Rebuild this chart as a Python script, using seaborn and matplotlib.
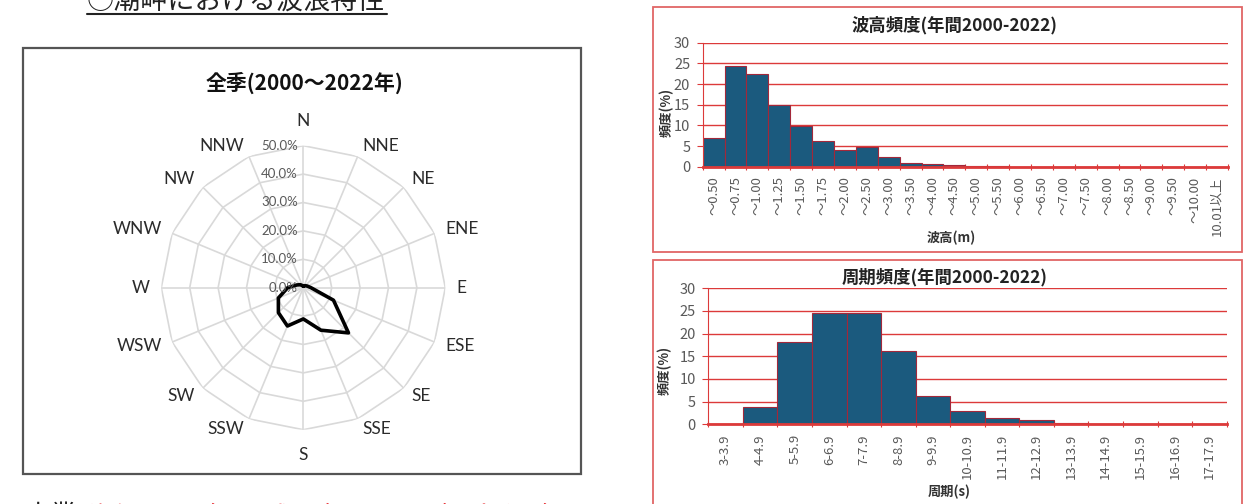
import numpy as np
import pandas as pd
import matplotlib
matplotlib.use("Agg")
import matplotlib.pyplot as plt
import seaborn as sns
from matplotlib.patches import Rectangle
from matplotlib.lines import Line2D

# ---------------- data ----------------
directions = ["N", "NNE", "NE", "ENE", "E", "ESE", "SE", "SSE",
              "S", "SSW", "SW", "WSW", "W", "WNW", "NW", "NNW"]
wave_dir_freq = [0.5, 0.7, 1.0, 1.5, 2.7, 11.5, 22.5, 16.2,
                 11.0, 14.6, 12.4, 9.5, 5.5, 2.5, 1.5, 0.8]
radial_ticks = [0, 10, 20, 30, 40, 50]

height_labels = ["～0.50", "～0.75", "～1.00", "～1.25", "～1.50", "～1.75",
                 "～2.00", "～2.50", "～3.00", "～3.50", "～4.00", "～4.50",
                 "～5.00", "～5.50", "～6.00", "～6.50", "～7.00", "～7.50",
                 "～8.00", "～8.50", "～9.00", "～9.50", "～10.00", "10.01以上"]
height_freq = [7.0, 24.4, 22.4, 14.9, 9.9, 6.2, 4.1, 4.8, 2.3, 1.0, 0.6, 0.35,
               0.1, 0.05, 0.02, 0.01, 0.0, 0.0, 0.0, 0.0, 0.0, 0.0, 0.0, 0.0]

period_labels = ["3-3.9", "4-4.9", "5-5.9", "6-6.9", "7-7.9", "8-8.9", "9-9.9",
                 "10-10.9", "11-11.9", "12-12.9", "13-13.9", "14-14.9",
                 "15-15.9", "16-16.9", "17-17.9"]
period_freq = [0.05, 3.8, 18.1, 24.6, 24.6, 16.2, 6.3, 2.9, 1.4, 0.9, 0.3,
               0.05, 0.0, 0.0, 0.0]

# ---------------- style ----------------
sns.set_theme(style="white")
plt.rcParams['font.family'] = ['Noto Sans CJK JP', 'DejaVu Sans']

W, H = 1251, 504
fig = plt.figure(figsize=(W / 100, H / 100), dpi=100)


def fx(px):
    return px / W


def fy(py):
    return 1 - py / H


BAR = "#1B5A7E"
RED = "#DC3A3A"
GRAY = "#595959"
LATIN = ['Lato', 'DejaVu Sans']

# ---------------- header / footer text ----------------
fig.text(fx(87), fy(10), "○潮岬における波浪特性", ha='left', va='baseline',
         fontsize=19.5, color='#222222')
fig.add_artist(Line2D([fx(87), fx(387)], [fy(14), fy(14)],
                      transform=fig.transFigure, color='#222222', lw=1.5))
fig.text(fx(24), fy(524), "本業", ha='left', va='baseline',
         fontsize=19, color='#222222')
fig.text(fx(88), fy(524), "潮岬(2000年(平成12年)～2022年(令和4年))の図",
         ha='left', va='baseline', fontsize=18.5, color='#E8262C')

# ---------------- radar chart ----------------
fig.add_artist(Rectangle((fx(22.7), fy(474)), (581 - 22.7) / W, (474 - 47.7) / H,
                         transform=fig.transFigure, fill=False,
                         edgecolor='#555555', lw=1.6))
fig.text(fx(304), fy(82.7), "全季(2000～2022年)", ha='center', va='center',
         fontsize=15, weight='bold', color='#111111')

R = 142
ax = fig.add_axes([fx(303.3 - R), fy(287.7 + R), 2 * R / W, 2 * R / H],
                  projection='polar')
ax.set_theta_zero_location('N')
ax.set_theta_direction(-1)
ax.set_ylim(0, radial_ticks[-1])
ax.grid(False)
ax.set_xticks([])
ax.set_yticks([])
ax.spines['polar'].set_visible(False)
ax.patch.set_alpha(0)

theta = np.linspace(0, 2 * np.pi, len(directions), endpoint=False)
theta_c = np.append(theta, theta[0])
for r in radial_ticks[1:]:
    ax.plot(theta_c, [r] * len(theta_c), color='#D9D9D9', lw=1.2, zorder=1)
for t in theta:
    ax.plot([t, t], [0, radial_ticks[-1]], color='#D9D9D9', lw=1.2, zorder=1)

radar_df = pd.DataFrame({'theta': theta_c,
                         'freq': np.append(wave_dir_freq, wave_dir_freq[0])})
sns.lineplot(data=radar_df, x='theta', y='freq', sort=False, estimator=None,
             color='black', lw=2.6, ax=ax, zorder=3)
ax.set_xlabel('')
ax.set_ylabel('')
ax.set_xticks([])
ax.set_yticks([])

for t, d in zip(theta, directions):
    s, c = np.sin(t), np.cos(t)
    if abs(s) < 0.1:
        ha = 'center'
        va = 'bottom' if c > 0 else 'top'
        rr = 56.0
    else:
        ha = 'left' if s > 0 else 'right'
        va = 'center'
        rr = 54.0
    ax.text(t, rr, d, ha=ha, va=va, fontsize=12.5,
            color='#2b2b2b', family=LATIN, clip_on=False)
for r in radial_ticks:
    ax.annotate(f"{r:.1f}%", xy=(0, r), xytext=(-4, 0),
                textcoords='offset points', ha='right', va='center',
                fontsize=9.5, color=GRAY, family=LATIN, annotation_clip=False)


# ---------------- bar charts ----------------
def bar_panel(left, right, top, bottom, labels, values):
    a = fig.add_axes([fx(left), fy(bottom), (right - left) / W, (bottom - top) / H])
    df = pd.DataFrame({'cat': labels, 'val': values})
    sns.barplot(data=df, x='cat', y='val', ax=a, color=BAR, saturation=1,
                width=1.0, edgecolor='#A3283A', linewidth=0.8, errorbar=None,
                zorder=2)
    n = len(labels)
    a.set_xlim(-0.5, n - 0.5)
    a.set_ylim(0, 30)
    a.set_yticks(range(0, 31, 5))
    a.set_xticks(range(n))
    a.set_xticklabels(labels, rotation=90)
    a.set_xticks(np.arange(-0.5, n, 1), minor=True)
    a.set_xlabel('')
    a.set_ylabel('')
    a.yaxis.grid(True, color=RED, lw=1.0, zorder=0)
    a.set_axisbelow(True)
    for s in ['top', 'right']:
        a.spines[s].set_visible(False)
    a.spines['left'].set_color(RED)
    a.spines['left'].set_linewidth(0.8)
    a.spines['bottom'].set_color(RED)
    a.spines['bottom'].set_linewidth(2.0)
    a.spines['bottom'].set_zorder(4)
    a.tick_params(axis='x', which='major', length=0, pad=7,
                  labelsize=9.5, labelcolor=GRAY)
    a.tick_params(axis='x', which='minor', length=4, width=0.8,
                  color=RED, direction='inout', bottom=True)
    a.tick_params(axis='y', length=4, width=0.8, color=RED, direction='out',
                  pad=5, labelsize=10.5, labelcolor=GRAY, left=True)
    a.patch.set_alpha(0)
    return a


# top: wave height
fig.add_artist(Rectangle((fx(653.3), fy(252)), (1241.7 - 653.3) / W, (252 - 7.3) / H,
                         transform=fig.transFigure, fill=False,
                         edgecolor='#E06666', lw=1.3))
bar_panel(702.7, 1228, 42.7, 166.7, height_labels, height_freq)
fig.text(fx(955), fy(25), "波高頻度(年間2000-2022)", ha='center', va='center',
         fontsize=12.5, weight='bold', color='#222222')
fig.text(fx(667), fy(112), "頻度(%)", ha='center', va='center', rotation=90,
         fontsize=9.5, weight='bold', color='#333333')
fig.text(fx(951), fy(238), "波高(m)", ha='center', va='center',
         fontsize=9.5, weight='bold', color='#333333')

# bottom: wave period
fig.add_artist(Rectangle((fx(653.3), fy(515)), (1241.7 - 653.3) / W, (515 - 260) / H,
                         transform=fig.transFigure, fill=False,
                         edgecolor='#E06666', lw=1.3))
bar_panel(708.3, 1226.7, 288.3, 424.3, period_labels, period_freq)
fig.text(fx(945), fy(277.7), "周期頻度(年間2000-2022)", ha='center', va='center',
         fontsize=12.5, weight='bold', color='#222222')
fig.text(fx(665), fy(370), "頻度(%)", ha='center', va='center', rotation=90,
         fontsize=9.5, weight='bold', color='#333333')
fig.text(fx(949), fy(492), "周期(s)", ha='center', va='center',
         fontsize=9.5, weight='bold', color='#333333')

fig.savefig("out.png", dpi=100)
